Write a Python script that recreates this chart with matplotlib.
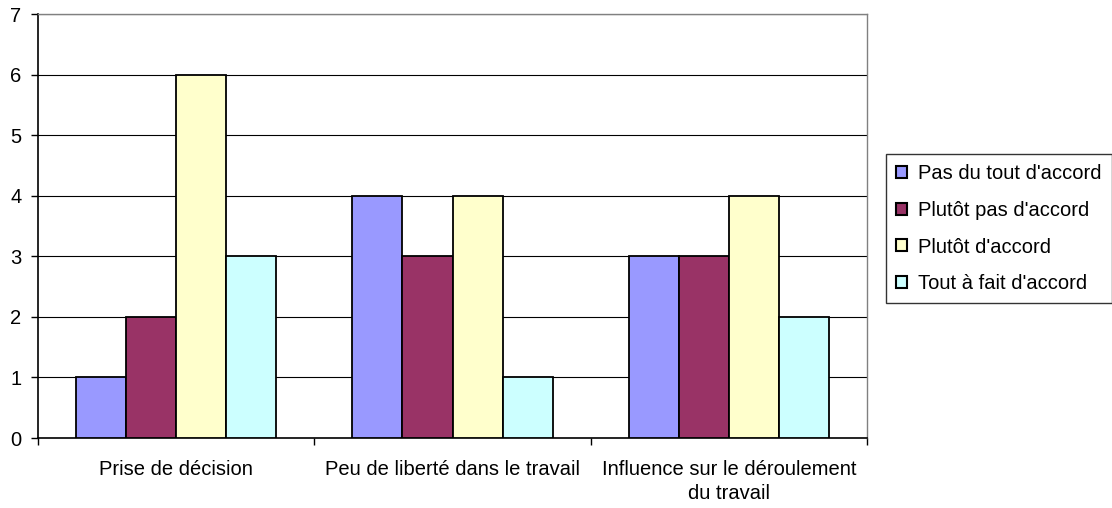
import matplotlib
matplotlib.use("Agg")
import matplotlib.pyplot as plt
import numpy as np

categories = ["Prise de décision", "Peu de liberté dans le travail",
              "Influence sur le déroulement\ndu travail"]
series_names = ["Pas du tout d'accord", "Plutôt pas d'accord",
                "Plutôt d'accord", "Tout à fait d'accord"]
pas_du_tout = [1, 4, 3]
plutot_pas = [2, 3, 3]
plutot = [6, 4, 4]
tout_a_fait = [3, 1, 2]
colors = ["#9999FF", "#993366", "#FFFFCC", "#CCFFFF"]
y_ticks = [0, 1, 2, 3, 4, 5, 6, 7]

plt.rcParams['font.family'] = ['Liberation Sans', 'DejaVu Sans']
FS = 14.5

fig = plt.figure(figsize=(11.12, 5.08), dpi=100)
ax = fig.add_axes([38/1112, 1-438/508, (867-38)/1112, (438-14)/508])

x = np.arange(len(categories))
w = 0.181
series = [pas_du_tout, plutot_pas, plutot, tout_a_fait]
for i, (vals, name, c) in enumerate(zip(series, series_names, colors)):
    ax.bar(x + (i - 1.5) * w, vals, width=w, color=c, edgecolor="black",
           linewidth=1.3, label=name, zorder=3)

ax.set_xlim(-0.5, 2.5)
ax.set_ylim(0, 7)
ax.set_yticks(y_ticks)
ax.yaxis.grid(True, color="black", linewidth=0.8, zorder=0)
ax.set_axisbelow(True)

ax.set_xticks([-0.5, 0.5, 1.5, 2.5])
ax.set_xticklabels([])
ax.set_xticks(x, minor=True)
ax.set_xticklabels(categories, minor=True, fontsize=FS)
for lbl in ax.get_xticklabels(minor=True):
    lbl.set_linespacing(1.35)
ax.tick_params(axis='x', which='minor', length=0, pad=15.5)
ax.tick_params(axis='x', which='major', length=5, width=1, direction='out')
ax.tick_params(axis='y', length=5, width=1, direction='out', labelsize=FS, pad=7)

for s in ["left", "bottom"]:
    ax.spines[s].set_color("black")
    ax.spines[s].set_linewidth(1.2)
for s in ["top", "right"]:
    ax.spines[s].set_color("#808080")
    ax.spines[s].set_linewidth(1.0)

leg = fig.legend(loc="upper left", bbox_to_anchor=(886/1112, 1-154/508),
                 fontsize=FS, frameon=True, fancybox=False, edgecolor="black",
                 handlelength=0.55, handleheight=0.55, handletextpad=0.55,
                 labelspacing=0.88, borderpad=0.5, borderaxespad=0)
leg.get_frame().set_linewidth(1.0)
for p in leg.get_patches():
    p.set_linewidth(1.5)

fig.savefig("out.png", dpi=100, facecolor="white")
